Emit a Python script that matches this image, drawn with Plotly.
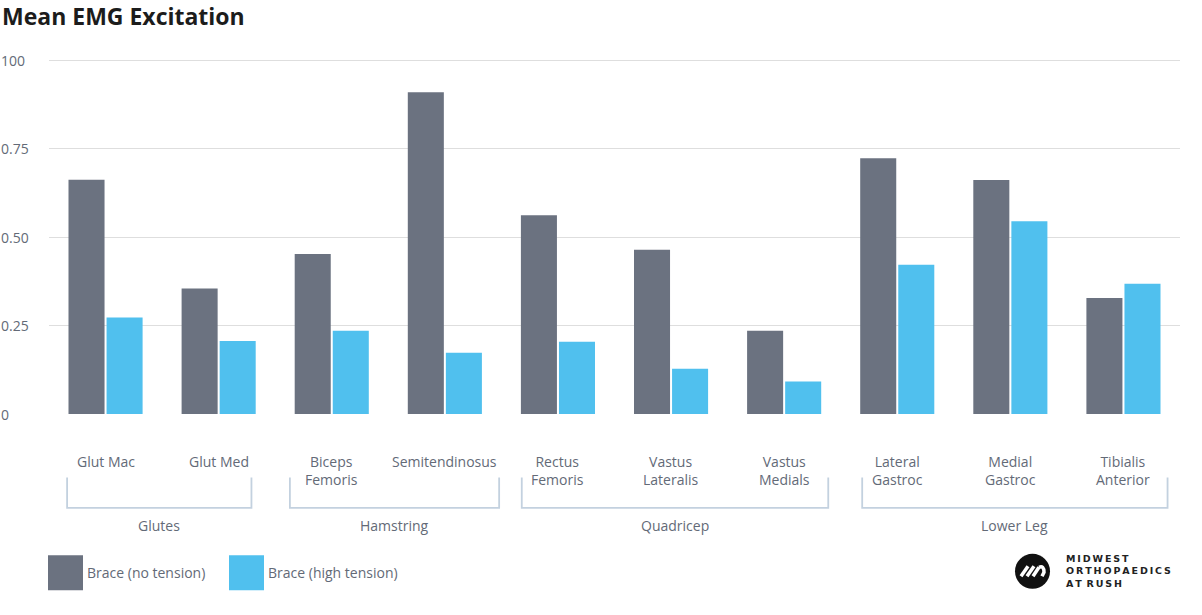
import plotly.graph_objects as go

# ---------------- data ----------------
categories = ["Glut Mac", "Glut Med", "Biceps<br>Femoris", "Semitendinosus",
              "Rectus<br>Femoris", "Vastus<br>Lateralis", "Vastus<br>Medials",
              "Lateral<br>Gastroc", "Medial<br>Gastroc", "Tibialis<br>Anterior"]
no_tension = [0.662, 0.355, 0.452, 0.909, 0.562, 0.464, 0.235, 0.723, 0.661, 0.328]
high_tension = [0.273, 0.206, 0.235, 0.173, 0.204, 0.128, 0.092, 0.422, 0.545, 0.368]
series_names = ["Brace (no tension)", "Brace (high tension)"]
group_names = ["Glutes", "Hamstring", "Quadricep", "Lower Leg"]
group_first = [0, 2, 4, 7]
group_last = [1, 3, 6, 9]
y_tickvals = [0, 0.25, 0.5, 0.75, 1.0]
y_ticktext = ["0", "0.25", "0.50", "0.75", "100"]

# ---------------- style ----------------
W, H = 1202, 615
ML, MR, MT, MB = 49, 22, 46, 200.5
PW, PH = W - ML - MR, H - MT - MB
Y0 = MT + PH  # pixel y of the plot bottom
FONT = "Open Sans"
FS = 14
DARK = "#6b7280"
LIGHT = "#50c0ee"
TEXT = "#636a77"
BRACKET = "#c3d1df"
BRACKET_PAD = [(0.34, 0.29), (0.37, 0.48), (0.32, 0.39), (0.31, 0.39)]  # (left, right) in category units


def px(x):
    return (x - ML) / PW


def py(y):
    return (Y0 - y) / PH


idx = list(range(len(categories)))

fig = go.Figure()
fig.add_trace(go.Bar(x=idx, y=no_tension, name=series_names[0], marker_color=DARK,
                     marker_line_width=0))
fig.add_trace(go.Bar(x=idx, y=high_tension, name=series_names[1], marker_color=LIGHT,
                     marker_line_width=0))

annotations = []
shapes = []

# y tick labels (left aligned)
for v, t in zip(y_tickvals, y_ticktext):
    annotations.append(dict(x=px(-1), xref="paper", y=v, yref="y", text=t,
                            showarrow=False, xanchor="left", yanchor="middle",
                            font=dict(family=FONT, size=FS, color=TEXT)))

# category labels
for i, c in enumerate(categories):
    annotations.append(dict(x=i, xref="x", y=0, yref="paper", yshift=-36,
                            text=c, showarrow=False, xanchor="center", yanchor="top",
                            align="center",
                            font=dict(family=FONT, size=FS, color=TEXT)))

# group brackets & labels
for name, a, b, (pl, pr) in zip(group_names, group_first, group_last, BRACKET_PAD):
    x0, x1 = a - pl, b + pr
    shapes.append(dict(type="path", xref="x", yref="paper",
                       path=f"M {x0},{py(478)} L {x0},{py(508.5)} L {x1},{py(508.5)} L {x1},{py(478)}",
                       line=dict(color=BRACKET, width=1.8)))
    annotations.append(dict(x=(x0 + x1) / 2, xref="x", y=py(526.5), yref="paper",
                            text=name, showarrow=False, xanchor="center", yanchor="middle",
                            font=dict(family=FONT, size=FS, color=TEXT)))

# custom legend
for lx, name, col in zip([48, 229], series_names, [DARK, LIGHT]):
    shapes.append(dict(type="rect", xref="paper", yref="paper",
                       x0=px(lx), x1=px(lx + 35), y0=py(556), y1=py(591),
                       fillcolor=col, line_width=0))
    annotations.append(dict(x=px(lx + 37), xref="paper", y=py(573.5), yref="paper",
                            text=name, showarrow=False, xanchor="left", yanchor="middle",
                            font=dict(family=FONT, size=FS, color=TEXT)))

# logo
shapes.append(dict(type="circle", xref="paper", yref="paper",
                   x0=px(1015), x1=px(1050), y0=py(554.5), y1=py(589.5),
                   fillcolor="#111111", line_width=0))
for (ax, ay, bx, by) in [(1021, 577, 1028, 567), (1027, 577, 1034, 567), (1033, 577, 1039, 568)]:
    shapes.append(dict(type="line", xref="paper", yref="paper",
                       x0=px(ax), y0=py(ay), x1=px(bx), y1=py(by),
                       line=dict(color="white", width=3.5)))
shapes.append(dict(type="path", xref="paper", yref="paper",
                   path=f"M {px(1039)},{py(568)} Q {px(1044)},{py(566)} {px(1044)},{py(573)} L {px(1042)},{py(577)}",
                   line=dict(color="white", width=3.5)))

ts = "\u2009"
logo_lines = ["MIDWEST", "ORTHOPAEDICS", "AT RUSH"]
logo_text = "<br>".join(ts.join(list(l)).replace(ts + " " + ts, "\u2002") for l in logo_lines)
annotations.append(dict(x=px(1064), xref="paper", y=py(572), yref="paper",
                        text="<b>" + logo_text + "</b>", showarrow=False,
                        xanchor="left", yanchor="middle", align="left",
                        font=dict(family="DejaVu Sans", size=9.5, color="#222222")))

fig.update_layout(
    width=W, height=H,
    margin=dict(l=ML, r=MR, t=MT, b=MB, pad=0),
    paper_bgcolor="white", plot_bgcolor="white",
    title=dict(text="<b>Mean EMG Excitation</b>", x=2 / W, xref="container", xanchor="left",
               y=1 - 9 / H, yref="container", yanchor="top",
               font=dict(family=FONT, size=23, color="#1c1c1c")),
    barmode="group", bargap=0.327, bargroupgap=0.053,
    showlegend=False,
    xaxis=dict(range=[-0.5, len(categories) - 0.5], showticklabels=False,
               showgrid=False, zeroline=False, showline=False, ticks=""),
    yaxis=dict(range=[0, 1.04], tickvals=y_tickvals, showticklabels=False,
               showgrid=True, gridcolor="#dedede", gridwidth=1.2,
               zeroline=False, showline=False, ticks=""),
    annotations=annotations,
    shapes=shapes,
)

fig.write_html("out.html", config={"displayModeBar": False},
               post_script="document.body.style.margin='0';document.body.style.padding='0';")
